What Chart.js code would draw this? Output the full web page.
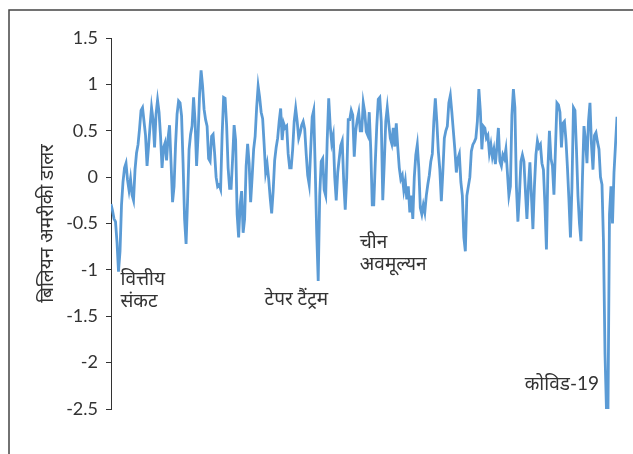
<!DOCTYPE html>
<html>
<head>
<meta charset="utf-8">
<script src="https://cdn.jsdelivr.net/npm/chart.js@4/dist/chart.umd.min.js"></script>
<style>
  html, body { margin: 0; padding: 0; background: #fff; }
  canvas { display: block; }
</style>
</head>
<body>
<canvas id="flows" width="633" height="454"></canvas>
<script>
/* ================= DATA ================= */
// weekly net flows, billion USD
const flows = [
  -0.29, -0.36, -0.45, -0.48, -0.7, -1.02, -0.8, -0.3, -0.05, 0.1,
  0.15, -0.03, -0.14, -0.02, -0.19, -0.25, 0.08, 0.26, 0.35, 0.52,
  0.72, 0.75, 0.6, 0.45, 0.12, 0.33, 0.55, 0.75, 0.62, 0.32,
  0.68, 0.83, 0.7, 0.44, 0.1, 0.32, 0.37, 0.18, 0.42, 0.56,
  0.15, -0.27, -0.1, 0.35, 0.68, 0.82, 0.8, 0.66, 0.15, -0.45,
  -0.72, -0.25, 0.3, 0.46, 0.55, 0.86, 0.6, 0.12,
  0.45, 0.9, 1.15, 0.98, 0.73, 0.62, 0.55, 0.2, 0.17, 0.44,
  0.46, 0.26, 0.0, -0.1, -0.08, -0.13, 0.45, 0.86, 0.85, 0.56,
  0.1, -0.12, -0.12, 0.2, 0.56, 0.4, -0.4, -0.65, -0.3, -0.15,
  -0.6, -0.45, 0.12, 0.36, 0.15, -0.27, 0.0, 0.3, 0.44, 0.75,
  0.98, 0.86, 0.7, 0.63, 0.35, 0.05, 0.14, -0.02, -0.22, -0.39,
  -0.15, 0.18, 0.32, 0.42, 0.6, 0.74, 0.4, 0.58, 0.53,
  0.55, 0.25, 0.1, 0.1, 0.3, 0.6, 0.74, 0.6, 0.42, 0.48,
  0.56, 0.6, 0.52, 0.25, 0.02, -0.08, 0.3, 0.65, 0.72, 0.1,
  -0.6, -1.12, -0.2, 0.17, 0.2, -0.14, -0.2, 0.4, 0.85, 0.55,
  0.37, 0.45, 0.0, -0.25, 0.05, 0.2, 0.34, 0.39, -0.05, -0.35,
  0.0, 0.62, 0.62, 0.72, 0.67, 0.22, 0.5, 0.62, 0.7, 0.5,
  0.5, 0.8, 0.7, 0.49, 0.45, 0.7, 0.3, -0.3,
  -0.3, 0.15, 0.55, 0.84, 0.86, 0.6, -0.25, 0.15, 0.6, 0.75,
  0.58, 0.42, 0.36, 0.53, 0.33, 0.58, 0.32, 0.1, -0.02, 0.02,
  -0.14, -0.04, -0.24, -0.1, -0.38, -0.2, -0.45, 0.0, 0.24, 0.35,
  0.1, -0.33, -0.4, -0.3, -0.38, -0.2, -0.08, 0.02, 0.17, 0.25,
  0.6, 0.85, 0.6, 0.28, 0.08, -0.26, 0.05, 0.42, 0.5, 0.55,
  0.8, 0.88, 0.7, 0.5, 0.3, 0.05, 0.2, 0.25,
  -0.05, -0.2, -0.65, -0.8, -0.2, -0.1, 0.0, 0.28, 0.35, 0.38,
  0.42, 0.6, 0.95, 0.71, 0.3, 0.55, 0.53, 0.42, 0.45, 0.26,
  0.35, 0.22, 0.3, 0.14, 0.32, 0.53, 0.17, 0.12, 0.24, 0.2,
  0.3, 0.05, -0.2, -0.1, 0.67, 0.95, 0.75, -0.1, -0.48, -0.2,
  0.17, 0.24, 0.17, -0.15, -0.45, -0.1, 0.16, -0.2, -0.56, -0.1,
  0.24, 0.39, 0.32, 0.35, 0.15, 0.08, -0.3, -0.78,
  0.1, 0.5, 0.2, 0.12, -0.19, 0.3, 0.8, 0.78, 0.7, 0.32,
  0.58, 0.6, 0.4, 0.1, -0.25, -0.65, -0.1, 0.75, 0.72, 0.3,
  -0.2, -0.5, -0.69, 0.0, 0.55, 0.4, 0.15, 0.6, 0.8, 0.35,
  0.08, 0.45, 0.48, 0.38, 0.3, 0.0, -0.08, -0.7, -1.9, -2.52,
  -2.52, -0.4, -0.1, -0.5, 0.05, 0.35, 0.65
];
const weeks = flows.map((_, i) => i + 1);

const Y_MIN = -2.5;
const Y_MAX = 1.5;
const Y_STEP = 0.5;
const Y_TITLE = 'बिलियन अमरीकी डालर';

// event callouts: text lines, anchored at (week index, value)
const noteLines = [['वित्तीय', 'संकट'], ['टेपर टैंट्रम'], ['चीन', 'अवमूल्यन'], ['कोविड-19']];
const noteWeek = [7.3, 103.3, 166.7, 326];
const noteValue = [-1.16, -1.38, -0.76, -2.3];
const noteAlign = ['left', 'left', 'left', 'right'];

/* ================= STYLE ================= */
const FONT = "Lato, 'Noto Sans', 'DejaVu Sans', sans-serif";
const TEXT_COLOR = '#333';
const LINE_COLOR = '#5B9BD5';

/* ================= PLUGINS ================= */
const frame = {
  id: 'frame',
  beforeDraw(chart) {
    const c = chart.ctx;
    c.save();
    c.strokeStyle = '#444';
    c.lineWidth = 1.5;
    c.beginPath();
    c.moveTo(9, chart.height);
    c.lineTo(9, 10);
    c.lineTo(chart.width, 10);
    c.stroke();
    c.restore();
  }
};

const callouts = {
  id: 'callouts',
  afterDatasetsDraw(chart) {
    const c = chart.ctx;
    const xs = chart.scales.x;
    const ys = chart.scales.y;
    c.save();
    c.fillStyle = TEXT_COLOR;
    c.font = '19px ' + FONT;
    c.textBaseline = 'alphabetic';
    noteLines.forEach((lines, i) => {
      const x = xs.getPixelForValue(noteWeek[i]);
      const y = ys.getPixelForValue(noteValue[i]);
      c.textAlign = noteAlign[i];
      lines.forEach((t, j) => c.fillText(t, x, y + j * 22));
    });
    c.restore();
  }
};

/* ================= CHART ================= */
new Chart(document.getElementById('flows'), {
  type: 'line',
  data: {
    labels: weeks,
    datasets: [{
      data: flows,
      borderColor: LINE_COLOR,
      borderWidth: 2.8,
      pointRadius: 0,
      tension: 0,
      fill: false
    }]
  },
  options: {
    responsive: false,
    animation: false,
    layout: { padding: { top: 38, right: 16, bottom: 45, left: 0 } },
    plugins: { legend: { display: false }, tooltip: { enabled: false } },
    scales: {
      x: { type: 'linear', min: 1, max: weeks.length, display: false },
      y: {
        min: Y_MIN,
        max: Y_MAX,
        ticks: {
          stepSize: Y_STEP,
          color: TEXT_COLOR,
          padding: 8,
          font: { family: FONT, size: 18 },
          callback: v => String(v)
        },
        grid: { drawOnChartArea: false, tickLength: 5, color: '#333' },
        border: { color: '#333', width: 1 },
        title: {
          display: true,
          text: Y_TITLE,
          color: TEXT_COLOR,
          font: { family: FONT, size: 19 },
          padding: { top: 35, bottom: 0 }
        },
        afterFit(scale) { scale.width = 111; }
      }
    }
  },
  plugins: [frame, callouts]
});
</script>
</body>
</html>
